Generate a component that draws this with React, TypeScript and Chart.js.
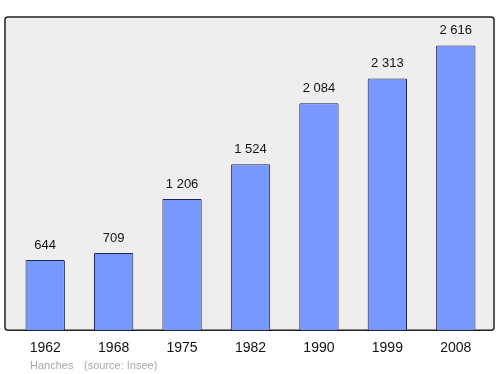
import React, { useEffect, useRef } from "react";
import { Chart, registerables } from "chart.js";

Chart.register(...registerables);

const years = ["1962", "1968", "1975", "1982", "1990", "1999", "2008"];
const population = [644, 709, 1206, 1524, 2084, 2313, 2616];
const valueLabels = ["644", "709", "1 206", "1 524", "2 084", "2 313", "2 616"];
const footerPlace = "Hanches";
const footerSource = "(source: Insee)";

const framePlugin = {
  id: "frame",
  beforeDraw(chart: any) {
    const { ctx, chartArea } = chart;
    const l = chartArea.left - 6;
    const r = chartArea.right + 4;
    const t = chartArea.top;
    const b = chartArea.bottom;
    ctx.save();
    ctx.beginPath();
    ctx.roundRect(l, t, r - l, b - t, 3);
    ctx.fillStyle = "#eeeeee";
    ctx.fill();
    ctx.lineWidth = 1.5;
    ctx.strokeStyle = "#222222";
    ctx.stroke();
    ctx.restore();
  },
  afterDatasetsDraw(chart: any) {
    const { ctx } = chart;
    const meta = chart.getDatasetMeta(0);
    ctx.save();
    ctx.font = "13px 'Liberation Sans', Arial, sans-serif";
    ctx.fillStyle = "#111111";
    ctx.textAlign = "center";
    ctx.textBaseline = "alphabetic";
    meta.data.forEach((bar: any, i: number) => {
      ctx.fillText(valueLabels[i], bar.x, bar.y - 11);
    });
    ctx.font = "11px 'Liberation Sans', Arial, sans-serif";
    ctx.fillStyle = "#a8a8a8";
    ctx.textAlign = "left";
    ctx.fillText(footerPlace, 30, 369);
    ctx.fillText(footerSource, 84, 369);
    ctx.restore();
  },
};

export default function App() {
  const ref = useRef<HTMLCanvasElement>(null);
  useEffect(() => {
    document.body.style.margin = "0";
    const chart = new Chart(ref.current!, {
      type: "bar",
      data: {
        labels: years,
        datasets: [
          {
            data: population,
            backgroundColor: "#7799ff",
            borderColor: "#222244",
            borderWidth: 1,
            borderSkipped: "bottom",
            borderRadius: 1,
            categoryPercentage: 1,
            barPercentage: 0.575,
          },
        ],
      },
      options: {
        animation: false,
        responsive: false,
        layout: { padding: { left: 11, right: 10, top: 17, bottom: 15 } },
        plugins: { legend: { display: false }, tooltip: { enabled: false } },
        scales: {
          x: {
            grid: { display: false },
            border: { display: false },
            ticks: {
              color: "#111111",
              font: { size: 14, family: "'Liberation Sans', Arial, sans-serif" },
              padding: 2,
            },
          },
          y: {
            display: false,
            min: 0,
            max: 2877,
          },
        },
      },
      plugins: [framePlugin],
    });
    return () => chart.destroy();
  }, []);
  return <canvas ref={ref} width={500} height={374} style={{ display: "block" }} />;
}
